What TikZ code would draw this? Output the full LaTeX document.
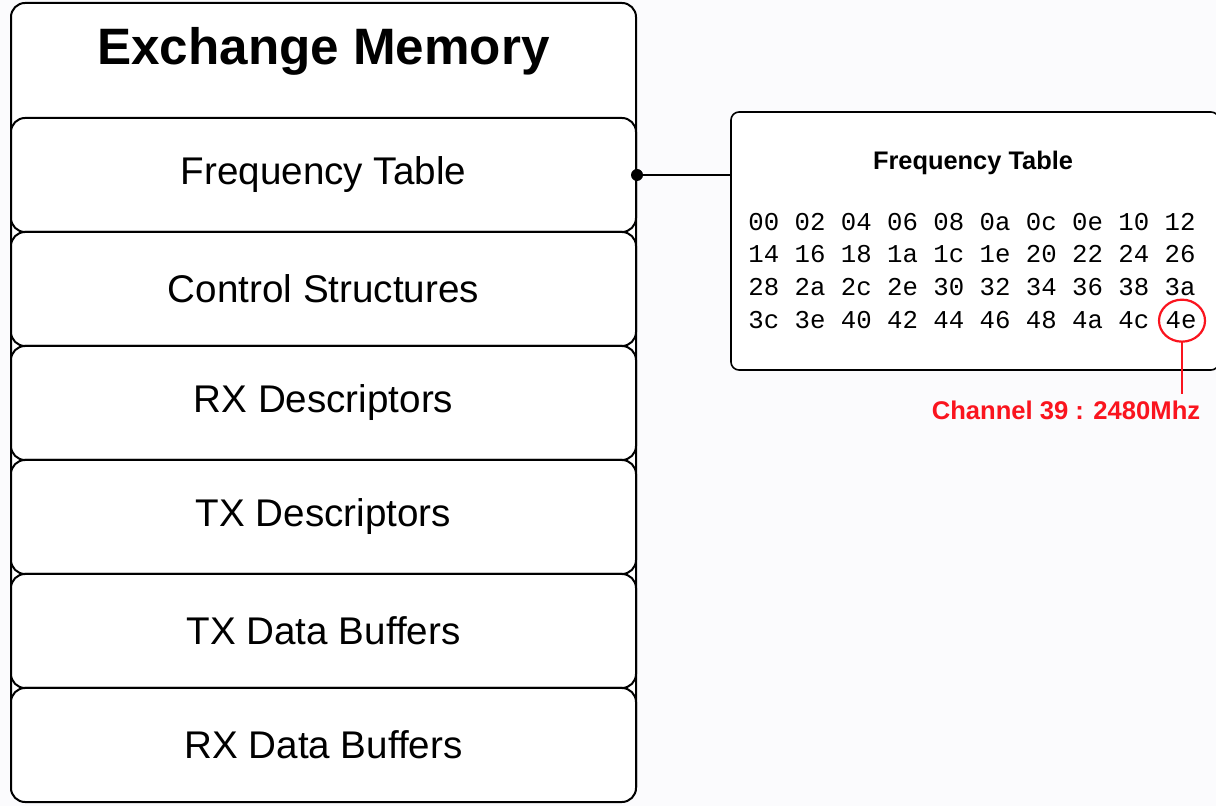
\documentclass[tikz,border=0pt]{standalone}
\usepackage{fontspec}
\setmainfont{Liberation Sans}
\setmonofont{Liberation Mono}
\usetikzlibrary{shapes}
\definecolor{chanred}{RGB}{250,20,30}
\definecolor{pagebg}{RGB}{251,251,253}
\tikzstyle{outerbox}=[draw,fill=white,rounded corners=7pt,line width=1pt,minimum width=312.5pt,minimum height=399pt]
\tikzstyle{membox}=[draw,fill=white,rounded corners=7pt,line width=1pt,minimum width=312.5pt,minimum height=57pt,font=\fontsize{19.3}{22}\selectfont]
\tikzstyle{tablebox}=[draw,fill=white,rounded corners=4pt,line width=0.8pt,minimum width=244pt,minimum height=129pt]
\tikzstyle{hexrow}=[inner sep=0pt,anchor=base west,font=\ttfamily\fontsize{12.85}{15}\selectfont]
\tikzstyle{redmark}=[draw=chanred,line width=1.1pt]
\newcommand{\pxunit}{0.5pt}

\begin{document}
\begin{tikzpicture}[x=\pxunit,y=-\pxunit]
    \fill[pagebg] (0,0) rectangle (1216,806);
    \useasboundingbox (0,0) rectangle (1216,806);
%   memory layout
    \node[outerbox] (mem) at (323.5,402) {};
    \node[font=\bfseries\fontsize{25.6}{30}\selectfont] (memtitle) at (323.5,51) {Exchange Memory};
    \node[membox] (freq) at (323.5,175) {Frequency Table};
    \node[membox] (ctrl) at (323.5,289) {Control Structures};
    \node[membox] (rxdesc) at (323.5,403) {RX Descriptors};
    \node[membox] (txdesc) at (323.5,517) {TX Descriptors};
    \node[membox] (txbuf) at (323.5,631) {TX Data Buffers};
    \node[membox] (rxbuf) at (323.5,745) {RX Data Buffers};
%   frequency table detail
    \node[tablebox] (ftab) at (975,241) {};
    \node[font=\bfseries\fontsize{12.7}{15}\selectfont] (ftabtitle) at (973,163) {Frequency Table};
    \node[hexrow] (r1) at (748,231) {00 02 04 06 08 0a 0c 0e 10 12};
    \node[hexrow] (r2) at (748,263) {14 16 18 1a 1c 1e 20 22 24 26};
    \node[hexrow] (r3) at (748,296) {28 2a 2c 2e 30 32 34 36 38 3a};
    \node[hexrow] (r4) at (748,329) {3c 3e 40 42 44 46 48 4a 4c};
    \node[hexrow] (ch39) at ([xshift=7.7pt]r4.base east) {4e};
    \node[circle,fill,inner sep=0pt,minimum size=6pt] (joint) at (freq.east) {};
    \draw[line width=0.8pt] (joint) -- (joint -| ftab.west);
%   channel 39 mark
    \draw[redmark] ([xshift=0.5pt]ch39.center) ellipse [x radius=11.5pt, y radius=10.5pt];
    \coordinate (ringbot) at ([xshift=0.5pt,yshift=-10.5pt]ch39.center);
    \node[font=\bfseries\fontsize{12.8}{15}\selectfont,text=chanred] (chlabel) at (1066,410) {Channel 39 : 2480Mhz};
    \draw[chanred,line width=1.3pt] (ringbot) -- (ringbot |- chlabel.north);
\end{tikzpicture}
\end{document}
